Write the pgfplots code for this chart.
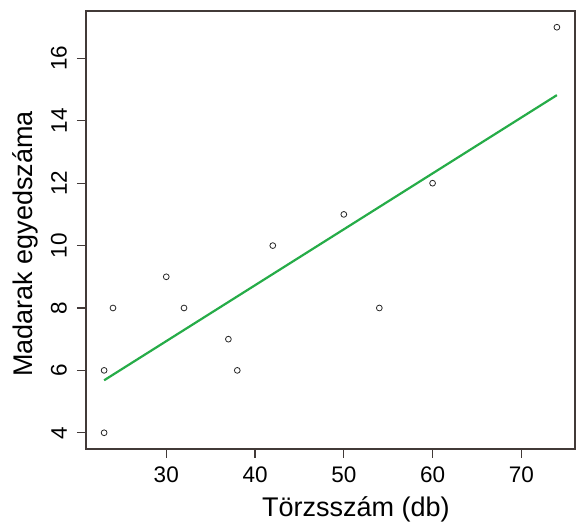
\documentclass[border=0pt]{standalone}
\usepackage{fontspec}
\setmainfont{Liberation Sans}
\usepackage{pgfplots}
\pgfplotsset{compat=1.18}

\definecolor{framegray}{RGB}{66,58,56}
\definecolor{fitgreen}{RGB}{38,172,72}

% tree counts per plot and bird counts
\pgfplotstableread{
x  y
23 4
23 6
24 8
30 9
32 8
37 7
38 6
42 10
50 11
54 8
60 12
74 17
}\birds

\begin{document}
\begin{tikzpicture}
\begin{axis}[
  scale only axis,
  width=489pt, height=438pt,
  xmin=20.96, xmax=76.04,
  ymin=3.48, ymax=17.52,
  clip=false,
  axis line style={framegray, line width=1.3pt},
  xtick={30,40,50,60,70},
  ytick={4,6,8,10,12,14,16},
  tick pos=left,
  tick align=outside,
  major tick length=9pt,
  tick style={framegray, line width=1.1pt},
  /pgf/number format/assume math mode=true,
  tick label style={font=\fontsize{22.5}{25}\selectfont, inner sep=0pt},
  xticklabel style={anchor=north},
  yticklabel style={rotate=90, anchor=south},
  xticklabel shift=8.5pt,
  yticklabel shift=10pt,
]
\addplot[only marks, mark=o, mark size=2.9pt,
  mark options={line width=0.8pt, black!85}] table {\birds};
% least-squares line
\addplot[fitgreen, line width=2.2pt] coordinates {(23,5.682) (74,14.823)};

\node[anchor=base, font=\fontsize{27}{30}\selectfont]
  at ([yshift=-68pt]axis description cs:0.552,0) {Törzsszám (db)};
\node[anchor=base, rotate=90, font=\fontsize{27}{30}\selectfont]
  at ([xshift=-53pt]axis description cs:0,0.468) {Madarak egyedszáma};

\coordinate (bl) at (rel axis cs:0,0);
\coordinate (tr) at (rel axis cs:1,1);
\end{axis}
\pgfresetboundingbox
\path[use as bounding box] ([shift={(-86pt,-75pt)}]bl) rectangle ([shift={(2pt,11pt)}]tr);
\end{tikzpicture}
\end{document}
